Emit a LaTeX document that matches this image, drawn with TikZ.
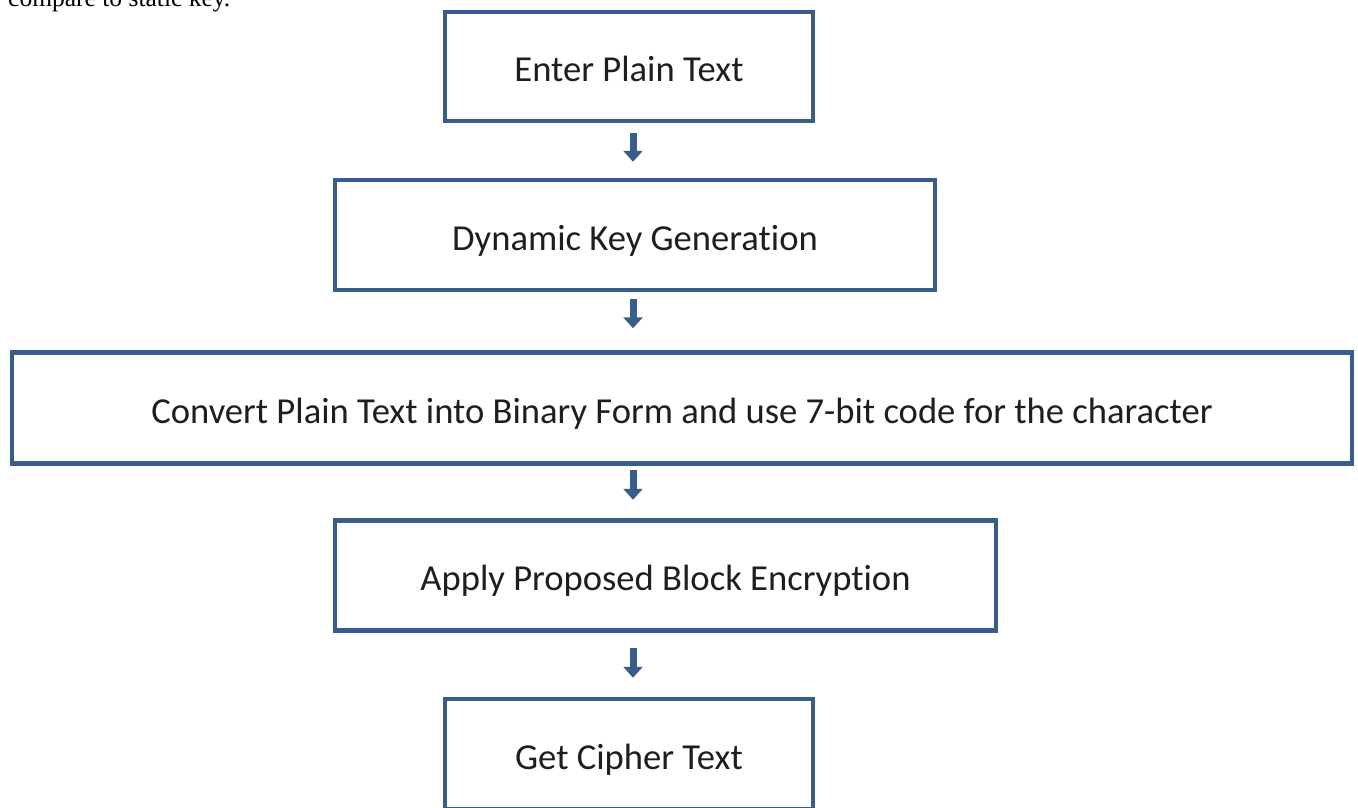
\documentclass[tikz,border=0pt]{standalone}
\usepackage{fontspec}
\setmainfont{Carlito}[Ligatures=NoCommon]
\newfontfamily\serifface{Liberation Serif}
\usetikzlibrary{arrows.meta}
\definecolor{boxblue}{RGB}{56,93,138}
\definecolor{inkgray}{RGB}{30,30,30}
\begin{document}
\begin{tikzpicture}[x=1pt,y=-1pt,
  stepbox/.style={draw=boxblue, line width=4.5pt, rectangle, inner sep=0pt,
    text=inkgray, font=\fontsize{36.6}{44}\selectfont,
    text height=36pt, text depth=6pt},
  flow/.style={draw=boxblue, line width=7pt,
    -{Triangle[width=19pt,length=11pt]}}]
\useasboundingbox (0,0) rectangle (1358,807);
\clip (0,0) rectangle (1358,807);

% trailing line of the preceding paragraph
\node[anchor=base west, inner sep=0pt, text=black,
  font=\serifface\fontsize{25.5}{30}\selectfont] (note) at (8,6.5) {compare to static key.};

% process steps
\node[stepbox, minimum width=368pt, minimum height=109pt] (enter)  at (629,66.5) {Enter Plain Text};
\node[stepbox, minimum width=600pt, minimum height=110pt] (keygen) at (635,235) {Dynamic Key Generation};
\node[stepbox, minimum width=1340pt, minimum height=111pt] (convert) at (682,408) {Convert Plain Text into Binary Form and use 7-bit code for the character};
\node[stepbox, minimum width=661pt, minimum height=110pt] (encrypt) at (665.5,575.5) {Apply Proposed Block Encryption};
\node[stepbox, minimum width=368pt, minimum height=110pt] (cipher) at (629,754) {Get Cipher Text};

% arrows run down a common vertical line
\coordinate (ax) at (633,0);
\draw[flow, shorten <=10pt, shorten >=16pt] (enter.south -| ax) -- (keygen.north -| ax);
\draw[flow, shorten <=7pt, shorten >=22pt] (keygen.south -| ax) -- (convert.north -| ax);
\draw[flow, shorten <=4.5pt, shorten >=18.5pt] (convert.south -| ax) -- (encrypt.north -| ax);
\draw[flow, shorten <=15pt, shorten >=19pt] (encrypt.south -| ax) -- (cipher.north -| ax);
\end{tikzpicture}
\end{document}
